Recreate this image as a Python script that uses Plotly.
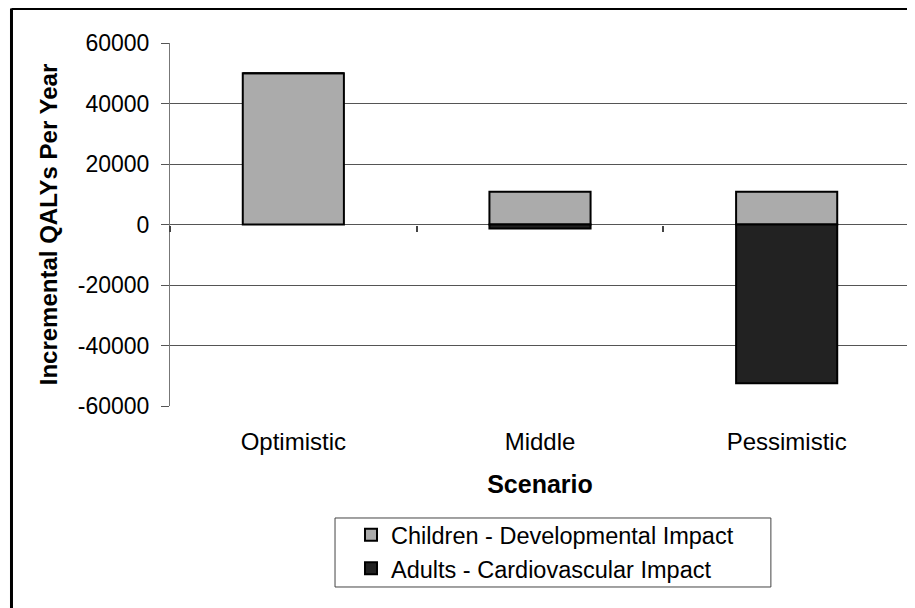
import plotly.graph_objects as go

categories = ["Optimistic", "Middle", "Pessimistic"]
children_vals = [50000, 10800, 10800]
adults_vals = [0, -1300, -52500]
y_ticks = [60000, 40000, 20000, 0, -20000, -40000, -60000]
boundary_ticks = [-0.5, 0.5, 1.5, 2.5]

FONT = "Liberation Sans, Arial, sans-serif"

fig = go.Figure()
fig.add_trace(go.Bar(
    x=categories, y=children_vals, name="Children - Developmental Impact",
    marker=dict(color="#ababab", line=dict(color="#000000", width=2)),
))
fig.add_trace(go.Bar(
    x=categories, y=adults_vals, name="Adults - Cardiovascular Impact",
    marker=dict(color="#222222", line=dict(color="#000000", width=2)),
))
# helper trace so the tick-only axis at zero is drawn
fig.add_trace(go.Scatter(x=[], y=[], xaxis="x2", showlegend=False, hoverinfo="skip"))

fig.update_layout(
    width=907, height=600,
    margin=dict(l=162, r=5, t=35, b=202),
    paper_bgcolor="white", plot_bgcolor="white",
    barmode="relative", bargap=0.59,
    font=dict(family=FONT, size=23, color="#000000"),
    xaxis=dict(
        type="category", categoryorder="array", categoryarray=categories,
        showgrid=False, showline=False, zeroline=False, ticks="",
        ticklabelstandoff=19,
        tickfont=dict(size=24),
        title=dict(text="<b>Scenario</b>", font=dict(size=25), standoff=21),
        range=[-0.5, 2.5],
    ),
    xaxis2=dict(
        overlaying="x", anchor="free", position=0.5,
        range=[-0.5, 2.5], tickmode="array", tickvals=boundary_ticks,
        showticklabels=False, ticks="outside", ticklen=6, tickwidth=1.5,
        tickcolor="#444444", showgrid=False, showline=False, zeroline=False,
    ),
    yaxis=dict(
        range=[-60000, 60000], tickmode="array", tickvals=y_ticks,
        ticktext=[str(v) for v in y_ticks],
        showgrid=True, gridcolor="#555555", gridwidth=1,
        zeroline=True, zerolinecolor="#555555", zerolinewidth=1,
        showline=True, linecolor="#777777", linewidth=1,
        ticks="outside", ticklen=8, tickcolor="#555555",
        ticklabelstandoff=7,
        tickfont=dict(size=23),
        title=dict(text="<b>Incremental QALYs Per Year</b>", font=dict(size=24), standoff=13),
    ),
    legend=dict(
        x=0.2446, y=-0.2948, xanchor="left", yanchor="top",
        orientation="v", traceorder="normal",
        borderwidth=0, bgcolor="rgba(0,0,0,0)",
        font=dict(size=23.5),
    ),
    showlegend=True,
    shapes=[
        dict(type="line", xref="paper", yref="paper", x0=-0.2142, x1=1.2, y0=1.095, y1=1.095,
             line=dict(color="#000000", width=3)),
        dict(type="line", xref="paper", yref="paper", x0=-0.2142, x1=-0.2142, y0=1.095, y1=-0.7,
             line=dict(color="#000000", width=3)),
        dict(type="rect", xref="paper", yref="paper", x0=0.223, x1=0.812, y0=-0.4986, y1=-0.3085,
             line=dict(color="#444444", width=1), fillcolor="rgba(0,0,0,0)"),
    ],
)

fig.write_html("out.html")
